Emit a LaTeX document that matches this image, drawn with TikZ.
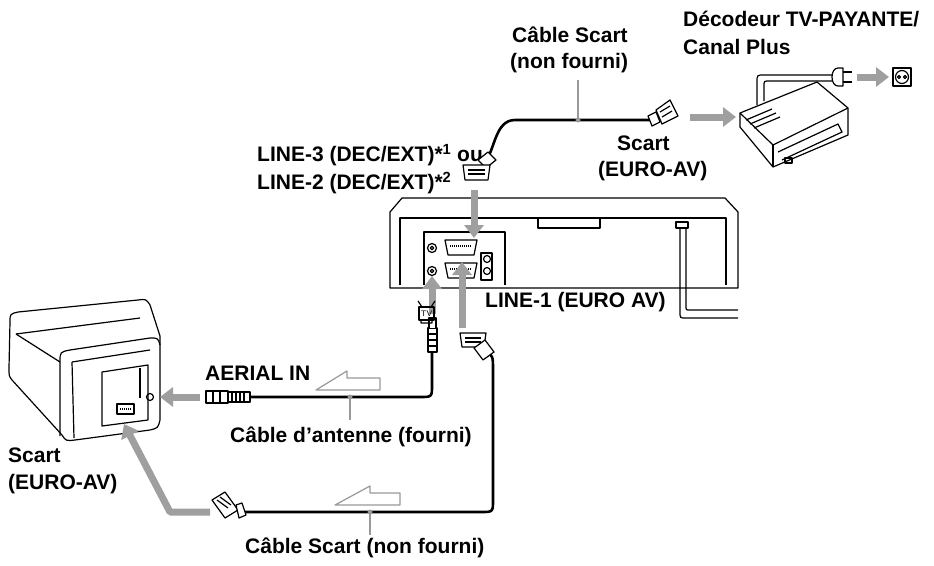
\documentclass[tikz,border=0pt]{standalone}
\usepackage{fontspec}
\setmainfont{Liberation Sans}
\usetikzlibrary{arrows.meta}
\begin{document}
\begin{tikzpicture}[x=1pt,y=-1pt,line join=round,
  lbl/.style={font=\bfseries\fontsize{21}{24}\selectfont,inner sep=0pt,anchor=west},
  garrow/.style={line width=7pt,gray!75,-{Triangle[length=13pt,width=19pt]}},
  cable/.style={line width=2.6pt,black},
  thin/.style={line width=1.2pt},
  hollow/.style={thin,gray!80,fill=white},
  lead/.style={line width=1.5pt,gray!80}]
\useasboundingbox (0,0) rectangle (934,565);
% ---------- labels
\node[lbl] (dec1) at (683,19) {Décodeur TV-PAYANTE/};
\node[lbl] (dec2) at (683,47) {Canal Plus};
\node[lbl] (cs1) at (512,35) {Câble Scart};
\node[lbl] (cs2) at (510,63) {(non fourni)};
\node[lbl] (l3) at (257,155) {LINE-3 (DEC/EXT)*\textsuperscript{1} ou};
\node[lbl] (l2) at (257,183) {LINE-2 (DEC/EXT)*\textsuperscript{2}};
\node[lbl] (sc1) at (617,143) {Scart};
\node[lbl] (sc2) at (598,171) {(EURO-AV)};
\node[lbl] (l1) at (485,302) {LINE-1 (EURO AV)};
\node[lbl] (ai) at (205,373) {AERIAL IN};
\node[lbl] (ca) at (230,437) {Câble d’antenne (fourni)};
\node[lbl] (sc3) at (8,455) {Scart};
\node[lbl] (sc4) at (8,484) {(EURO-AV)};
\node[lbl] (cs3) at (245,548) {Câble Scart (non fourni)};
% ---------- VCR
\draw[thin] (390,288) -- (390,212) -- (402,198) -- (725,198) -- (738,212) -- (738,288) -- cycle;
\draw[thin] (400,285) -- (400,218) -- (726,218) -- (726,285);
\draw[thin] (538,218) -- (538,228) -- (600,228) -- (600,218);
\draw[thin] (424,285) -- (424,232) -- (505,232) -- (505,285);
\foreach \yy in {240,263}{
  \draw[thin,fill=white] (445,\yy) -- (477,\yy) -- (474,\yy+15) -- (448,\yy+15) -- cycle;
  \draw[line width=2pt,dash pattern=on 1pt off 1pt] (450,\yy+6) -- (472,\yy+6);}
\foreach \yy in {248,271}{\draw[thin] (432,\yy) circle (4.5); \draw[thin] (432,\yy) circle (1.8);}
\draw[thin] (481,253) rectangle (492,280);
\foreach \yy in {259,271}{\draw[thin] (487,\yy) circle (3.5);}
\draw[thin] (676,222) rectangle (688,228);
\draw[thin] (680,228) -- (680,312) .. controls (680,318) .. (686,318) -- (738,318);
\draw[thin] (686,228) -- (686,306) .. controls (686,310) .. (690,310) -- (738,310);
% ---------- top scart cable
\draw[cable] (485,162) .. controls (495,150) and (495,120) .. (515,120) -- (650,120);
\draw[thin,fill=white] (478,160) -- (488,152) -- (496,160) -- (486,168) -- cycle;
\draw[thin,fill=white] (463,165) -- (490,165) -- (488,180) -- (465,180) -- cycle;
\draw[thin] (468,170) -- (485,170) (468,174) -- (485,174);
\draw[lead] (578,120) -- (578,80);
\fill[gray!80] (578,120) circle (2.5);
\draw[thin,fill=white] (648,116) -- (656,112) -- (660,122) -- (652,126) -- cycle;
\draw[thin,fill=white] (656,110) -- (670,100) -- (678,116) -- (662,124) -- cycle;
\draw[thin] (660,112) -- (670,106) (662,117) -- (672,111);
\draw[garrow] (474,190) -- (474,238);
\draw[garrow] (690,117) -- (736,117);
% ---------- decoder
\draw[thin] (757,105) -- (757,82) .. controls (757,75) .. (764,75) -- (835,75);
\draw[thin] (764,101) -- (764,86) .. controls (764,81) .. (769,81) -- (835,81);
\draw[thin,fill=white] (740,113) -- (817,82) -- (848,108) -- (848,135) -- (773,167) -- (740,127) -- cycle;
\draw[thin] (740,113) -- (773,145) -- (848,108);
\draw[thin] (773,145) -- (773,167);
\draw[thin] (746,120) -- (772,109) (750,124) -- (776,113) (754,128) -- (780,117);
\draw[thin] (778,152) -- (838,124) -- (842,132) -- (782,160);
\draw[thin] (785,158) rectangle (792,163);
\draw[thin,fill=white] (843,68) -- (838,68) .. controls (830,68) and (830,86) .. (838,86) -- (843,86) -- cycle;
\draw[thin] (843,72) -- (852,72) (843,82) -- (852,82);
\draw[garrow] (857,77) -- (889,77);
\draw[thin] (893,68) rectangle (911,86);
\draw[thin] (902,77) circle (6.5);
\draw[thin] (899,77) circle (1.5) (905,77) circle (1.5);
% ---------- TV
\draw[thin,fill=white] (10,322) .. controls (10,314) .. (18,312) -- (138,300) .. controls (146,299) .. (150,305) -- (160,336)
  -- (160,420) .. controls (158,428) .. (150,430) -- (75,440) .. controls (66,441) .. (62,435) -- (12,380) .. controls (9,376) .. (9,368) -- cycle;
\draw[thin] (16,334) -- (140,318);
\draw[thin] (16,334) -- (60,362);
\draw[thin] (60,436) -- (60,362) .. controls (60,352) .. (70,350) -- (150,338) .. controls (158,338) .. (160,345);
\draw[thin] (72,362) -- (150,350) (72,362) -- (74,438);
\draw[thin] (102,372) -- (148,365) -- (148,420) -- (102,426) -- cycle;
\draw[thin] (140,368) -- (140,398);
\draw[thin,fill=white] (117,404) rectangle (134,414);
\draw[line width=2pt,dash pattern=on 1pt off 1pt] (120,409) -- (131,409);
\draw[thin] (150,397) circle (3.5);
% ---------- antenna cable
\draw[cable] (432,352) -- (432,385) .. controls (432,397) .. (420,397) -- (250,397);
\draw[thin,fill=white] (428,328) rectangle (437,352);
\draw[thin] (428,334) -- (437,334) (428,340) -- (437,340) (428,346) -- (437,346);
\draw[thin,fill=white] (429,328) -- (429,318) -- (436,318) -- (436,328);
\draw[thin,fill=white] (228,392) rectangle (250,402);
\draw[thin] (232,392) -- (232,402) (236,392) -- (236,402) (240,392) -- (240,402) (244,392) -- (244,402);
\draw[thin,fill=white] (206,391) rectangle (228,403);
\draw[thin] (213,391) -- (213,403) (220,391) -- (220,403);
\draw[hollow] (316,390) -- (347,371) -- (347,378) -- (380,378) -- (380,390) -- cycle;
\draw[lead] (350,397) -- (350,420);
\fill[gray!80] (350,397) circle (2.5);
\draw[garrow] (200,397) -- (160,397);
\draw[garrow] (432,314) -- (432,276);
% TV icon
\draw[thin] (419,307) rectangle (434,320);
\node[font=\sffamily\fontsize{8}{8}\selectfont,inner sep=0pt] (tvi) at (426.5,313.5) {TV};
\draw[thin] (422,307) -- (418,301) (431,307) -- (435,301) (421,320) -- (421,323) -- (432,323) -- (432,320);
% ---------- bottom scart cable
\draw[cable] (485,350) .. controls (493,356) .. (493,370) -- (493,500) .. controls (493,512) .. (481,512) -- (240,512);
\draw[thin,fill=white] (460,333) -- (486,333) -- (484,347) -- (462,347) -- cycle;
\draw[thin] (465,338) -- (481,338) (465,342) -- (481,342);
\draw[thin,fill=white] (474,348) -- (485,340) -- (494,352) -- (483,360) -- cycle;
\draw[thin,fill=white] (212,500) -- (225,492) -- (238,510) -- (225,518) -- cycle;
\draw[thin] (217,500) -- (228,508) (220,497) -- (231,505);
\draw[thin,fill=white] (236,505) -- (242,503) -- (246,515) -- (239,518) -- cycle;
\draw[hollow] (335,505) -- (370,486) -- (370,493) -- (400,493) -- (400,505) -- cycle;
\draw[lead] (370,512) -- (370,535);
\fill[gray!80] (370,512) circle (2.5);
\draw[line width=7pt,gray!75,-{Triangle[length=13pt,width=19pt]}] (210,512) -- (170,512) -- (124,424);
\draw[garrow] (462,328) -- (462,262);
\end{tikzpicture}
\end{document}
